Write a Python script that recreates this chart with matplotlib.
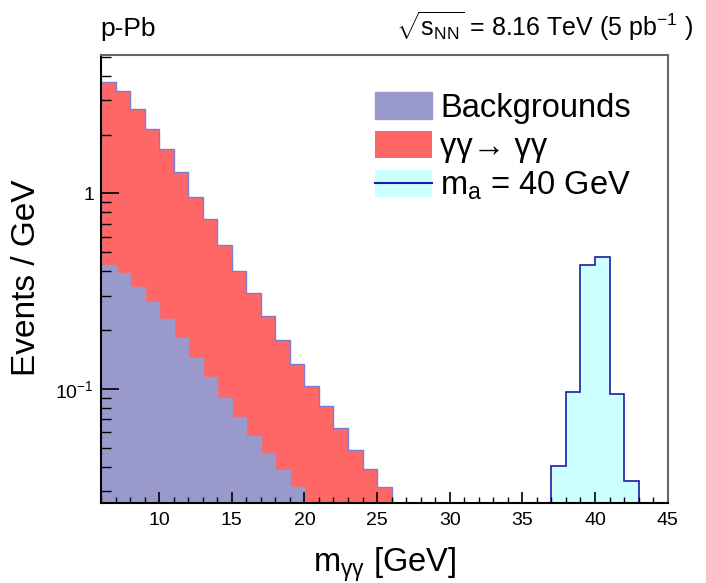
import numpy as np
import matplotlib.pyplot as plt
from matplotlib.patches import Patch
from matplotlib.lines import Line2D
from matplotlib.ticker import FixedLocator, FixedFormatter, LogLocator, NullFormatter

plt.rcParams['font.family'] = ['Liberation Sans', 'DejaVu Sans']
plt.rcParams['mathtext.fontset'] = 'custom'
plt.rcParams['mathtext.rm'] = 'Liberation Sans'
plt.rcParams['mathtext.it'] = 'Liberation Sans'
plt.rcParams['mathtext.sf'] = 'Liberation Sans'

# 1 GeV bins
bkg_edges = np.arange(6, 21)
bkg = [0.430, 0.393, 0.331, 0.279, 0.227, 0.182, 0.1445, 0.115, 0.0903,
       0.072, 0.0577, 0.0469, 0.0387, 0.0315]

lbl_edges = np.arange(6, 27)
lbl = [3.29, 2.947, 2.379, 1.861, 1.458, 1.098, 0.8165, 0.621, 0.4537,
       0.330, 0.2503, 0.1901, 0.1393, 0.1025, 0.104, 0.0819, 0.0632,
       0.0488, 0.0392, 0.0315]

sig_edges = np.arange(37, 44)
sig = [0.0406, 0.0969, 0.430, 0.474, 0.0942, 0.0338]

c_bkg = "#9999cc"
c_lbl = "#ff6666"
c_sig = "#ccffff"
c_line = "#1c1ca8"

# stack: backgrounds + gamma gamma -> gamma gamma
bkg_full = np.zeros(len(lbl))
bkg_full[:len(bkg)] = bkg
tot = bkg_full + np.array(lbl)

fig = plt.figure(figsize=(7.06, 5.83), dpi=100)
ax = fig.add_axes([0.1431, 0.1364, 0.8026, 0.7693])

ax.stairs(tot, lbl_edges, baseline=1e-3, fill=True, facecolor=c_lbl,
          edgecolor="#7c7cd0", lw=1.0)
ax.stairs(bkg, bkg_edges, baseline=1e-3, fill=True, facecolor=c_bkg,
          edgecolor=c_bkg, lw=1.0)
ax.stairs(sig, sig_edges, baseline=1e-3, fill=True, facecolor=c_sig,
          edgecolor=c_line, lw=1.2)

ax.set_yscale("log")
ax.set_xlim(6, 45)
ax.set_ylim(0.026, 5.1)

ax.xaxis.set_major_locator(FixedLocator([10, 15, 20, 25, 30, 35, 40, 45]))
ax.xaxis.set_minor_locator(FixedLocator(np.arange(6, 46)))
ax.yaxis.set_major_locator(FixedLocator([0.1, 1]))
ax.yaxis.set_major_formatter(FixedFormatter([r"$10^{-1}$", "1"]))
ax.yaxis.set_minor_locator(LogLocator(subs=np.arange(2, 10)))
ax.yaxis.set_minor_formatter(NullFormatter())

ax.tick_params(axis="x", which="major", direction="in", length=8, width=1.2,
               labelsize=14, pad=6)
ax.tick_params(axis="x", which="minor", direction="in", length=4, width=1.0)
ax.tick_params(axis="y", which="major", direction="in", length=13, width=1.2,
               labelsize=14, pad=5)
ax.tick_params(axis="y", which="minor", direction="in", length=7, width=1.0)

for s in ["left", "bottom"]:
    ax.spines[s].set_linewidth(1.5)
    ax.spines[s].set_color("black")
for s in ["top", "right"]:
    ax.spines[s].set_linewidth(1.5)
    ax.spines[s].set_color("#666666")

ax.set_xlabel(r"m$_{\gamma\gamma}$ [GeV]", fontsize=23.5)
ax.xaxis.set_label_coords(0.5, -0.093)
ax.set_ylabel("Events / GeV", fontsize=24)
ax.yaxis.set_label_coords(-0.105, 0.503)

handles = [Patch(facecolor=c_bkg, edgecolor=c_bkg),
           Patch(facecolor=c_lbl, edgecolor="none"),
           (Patch(facecolor=c_sig, edgecolor="none"), Line2D([], [], color=c_line, lw=1.5))]
labels = ["Backgrounds", "\u03b3\u03b3\u2192 \u03b3\u03b3", r"m$_{\rm a}$ = 40 GeV"]
ax.legend(handles, labels, loc="upper left", bbox_to_anchor=(0.531, 0.842),
          bbox_transform=fig.transFigure, frameon=False, fontsize=23.5,
          handlelength=1.75, handleheight=0.9, handletextpad=0.25,
          labelspacing=0.22, borderpad=0, borderaxespad=0)

fig.text(0.1416, 0.938, "p-Pb", fontsize=19, va="baseline", ha="left")
fig.text(0.982, 0.938, r"$\sqrt{\rm s_{NN}}$ = 8.16 TeV (5 pb$^{-1}$ )",
         fontsize=18, va="baseline", ha="right")

fig.savefig("out.png", dpi=100)
